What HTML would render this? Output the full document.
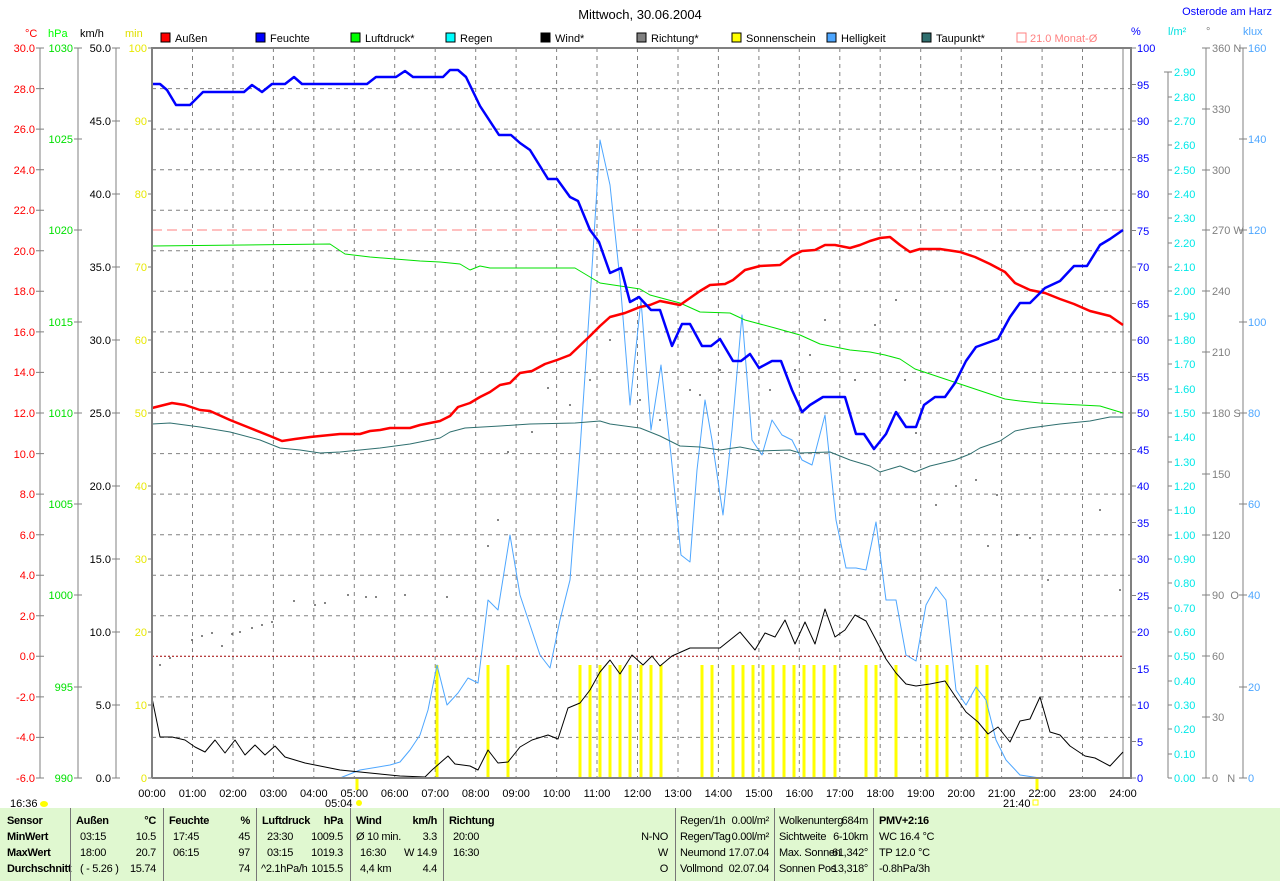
<!DOCTYPE html>
<html><head><meta charset="utf-8"><style>
body{margin:0;background:#fff;width:1280px;height:881px;overflow:hidden;font-family:"Liberation Sans",sans-serif}
svg text{font-family:"Liberation Sans",sans-serif;font-size:11px}
.tb{position:absolute;left:0;top:808px;width:1280px;height:73px;background:#e0f8d0;font-size:11px;letter-spacing:-0.3px}
.c{position:absolute;top:0;height:73px;border-left:1px solid #777}
.r{position:absolute;white-space:nowrap}
</style></head><body>
<svg width="1280" height="808" style="position:absolute;left:0;top:0">
<text x="640" y="19" text-anchor="middle" style="font-size:13px">Mittwoch, 30.06.2004</text>
<text x="1272" y="15" text-anchor="end" fill="#0000ff">Osterode am Harz</text>
<text x="25" y="37" fill="#ff0000">°C</text><text x="48" y="37" fill="#00ff00">hPa</text><text x="80" y="37">km/h</text><text x="125" y="37" fill="#e0e000">min</text>
<text x="1131" y="35" fill="#0000ff">%</text><text x="1168" y="35" fill="#00e0e0">l/m²</text><text x="1206" y="35" fill="#808080">°</text><text x="1243" y="35" fill="#4da6ff">klux</text>
<g stroke="#000" stroke-width="1">
<rect x="161" y="33" width="9" height="9" fill="#ff0000"/><rect x="256" y="33" width="9" height="9" fill="#0000ff"/><rect x="351" y="33" width="9" height="9" fill="#00ff00"/><rect x="446" y="33" width="9" height="9" fill="#00ffff"/><rect x="541" y="33" width="9" height="9" fill="#000"/><rect x="637" y="33" width="9" height="9" fill="#808080"/><rect x="732" y="33" width="9" height="9" fill="#ffff00"/><rect x="827" y="33" width="9" height="9" fill="#4da6ff"/><rect x="922" y="33" width="9" height="9" fill="#2f6f6f"/><rect x="1017" y="33" width="9" height="9" fill="none" stroke="#ff8080"/>
</g>
<text x="175" y="42">Außen</text><text x="270" y="42">Feuchte</text><text x="365" y="42">Luftdruck*</text><text x="460" y="42">Regen</text><text x="555" y="42">Wind*</text><text x="651" y="42">Richtung*</text><text x="746" y="42">Sonnenschein</text><text x="841" y="42">Helligkeit</text><text x="936" y="42">Taupunkt*</text><text x="1030" y="42" fill="#ff8080">21.0 Monat-Ø</text>
<g stroke="#808080" fill="none">
<path d="M40 48V778M78 48V778M116 48V778M1168 72V778M1206 48V778M1243 48V778"/>
<path d="M36 48h8M36 88.6h8M36 129.1h8M36 169.7h8M36 210.2h8M36 250.8h8M36 291.3h8M36 331.9h8M36 372.4h8M36 413h8M36 453.6h8M36 494.1h8M36 534.7h8M36 575.2h8M36 615.8h8M36 656.3h8M36 696.9h8M36 737.4h8M36 778h8"/>
<path d="M74 48h8M74 139h8M74 230h8M74 322h8M74 413h8M74 504h8M74 595h8M74 687h8M74 778h8"/>
<path d="M112 48h8M112 121h8M112 194h8M112 267h8M112 340h8M112 413h8M112 486h8M112 559h8M112 632h8M112 705h8M112 778h8"/>
<path d="M148 48h4M148 121h4M148 194h4M148 267h4M148 340h4M148 413h4M148 486h4M148 559h4M148 632h4M148 705h4M148 778h4"/>
<path d="M1131 48h5M1131 84.5h5M1131 121h5M1131 157.5h5M1131 194h5M1131 230.5h5M1131 267h5M1131 303.5h5M1131 340h5M1131 376.5h5M1131 413h5M1131 449.5h5M1131 486h5M1131 522.5h5M1131 559h5M1131 595.5h5M1131 632h5M1131 668.5h5M1131 705h5M1131 741.5h5M1131 778h5"/>
<path d="M1164 72h8M1168 97h4M1168 121h4M1168 145h4M1168 170h4M1168 194h4M1168 218h4M1168 243h4M1168 267h4M1168 291h4M1168 316h4M1168 340h4M1168 364h4M1168 389h4M1168 413h4M1168 437h4M1168 462h4M1168 486h4M1168 510h4M1168 535h4M1168 559h4M1168 583h4M1168 608h4M1168 632h4M1168 656h4M1168 681h4M1168 705h4M1168 729h4M1168 754h4M1168 778h4"/>
<path d="M1202 48h8M1202 109h8M1202 170h8M1202 230h8M1202 291h8M1202 352h8M1202 413h8M1202 474h8M1202 535h8M1202 595h8M1202 656h8M1202 717h8M1202 778h8"/>
<path d="M1239 48h8M1239 139h8M1239 230h8M1239 322h8M1239 413h8M1239 504h8M1239 595h8M1239 687h8M1239 778h8"/>
</g>
<g text-anchor="end" fill="#ff0000" style="font-size:12px">
<text x="35" y="52">30.0</text><text x="35" y="93">28.0</text><text x="35" y="133">26.0</text><text x="35" y="174">24.0</text><text x="35" y="214">22.0</text><text x="35" y="255">20.0</text><text x="35" y="295">18.0</text><text x="35" y="336">16.0</text><text x="35" y="376">14.0</text><text x="35" y="417">12.0</text><text x="35" y="458">10.0</text><text x="35" y="498">8.0</text><text x="35" y="539">6.0</text><text x="35" y="579">4.0</text><text x="35" y="620">2.0</text><text x="35" y="660">0.0</text><text x="35" y="701">-2.0</text><text x="35" y="741">-4.0</text><text x="35" y="782">-6.0</text>
</g>
<g text-anchor="end" fill="#00e000" style="font-size:12px">
<text x="73" y="52">1030</text><text x="73" y="143">1025</text><text x="73" y="234">1020</text><text x="73" y="326">1015</text><text x="73" y="417">1010</text><text x="73" y="508">1005</text><text x="73" y="599">1000</text><text x="73" y="691">995</text><text x="73" y="782">990</text>
</g>
<g text-anchor="end" style="font-size:12px">
<text x="111" y="52">50.0</text><text x="111" y="125">45.0</text><text x="111" y="198">40.0</text><text x="111" y="271">35.0</text><text x="111" y="344">30.0</text><text x="111" y="417">25.0</text><text x="111" y="490">20.0</text><text x="111" y="563">15.0</text><text x="111" y="636">10.0</text><text x="111" y="709">5.0</text><text x="111" y="782">0.0</text>
</g>
<g text-anchor="end" fill="#e8e800" style="font-size:12px">
<text x="147" y="52">100</text><text x="147" y="125">90</text><text x="147" y="198">80</text><text x="147" y="271">70</text><text x="147" y="344">60</text><text x="147" y="417">50</text><text x="147" y="490">40</text><text x="147" y="563">30</text><text x="147" y="636">20</text><text x="147" y="709">10</text><text x="147" y="782">0</text>
</g>
<g fill="#0000ff" style="font-size:12px">
<text x="1137" y="52">100</text><text x="1137" y="89">95</text><text x="1137" y="125">90</text><text x="1137" y="162">85</text><text x="1137" y="198">80</text><text x="1137" y="235">75</text><text x="1137" y="271">70</text><text x="1137" y="308">65</text><text x="1137" y="344">60</text><text x="1137" y="381">55</text><text x="1137" y="417">50</text><text x="1137" y="454">45</text><text x="1137" y="490">40</text><text x="1137" y="527">35</text><text x="1137" y="563">30</text><text x="1137" y="600">25</text><text x="1137" y="636">20</text><text x="1137" y="673">15</text><text x="1137" y="709">10</text><text x="1137" y="746">5</text><text x="1137" y="782">0</text>
</g>
<g fill="#00e8e8">
<text x="1174" y="76">2.90</text><text x="1174" y="101">2.80</text><text x="1174" y="125">2.70</text><text x="1174" y="149">2.60</text><text x="1174" y="174">2.50</text><text x="1174" y="198">2.40</text><text x="1174" y="222">2.30</text><text x="1174" y="247">2.20</text><text x="1174" y="271">2.10</text><text x="1174" y="295">2.00</text><text x="1174" y="320">1.90</text><text x="1174" y="344">1.80</text><text x="1174" y="368">1.70</text><text x="1174" y="393">1.60</text><text x="1174" y="417">1.50</text><text x="1174" y="441">1.40</text><text x="1174" y="466">1.30</text><text x="1174" y="490">1.20</text><text x="1174" y="514">1.10</text><text x="1174" y="539">1.00</text><text x="1174" y="563">0.90</text><text x="1174" y="587">0.80</text><text x="1174" y="612">0.70</text><text x="1174" y="636">0.60</text><text x="1174" y="660">0.50</text><text x="1174" y="685">0.40</text><text x="1174" y="709">0.30</text><text x="1174" y="733">0.20</text><text x="1174" y="758">0.10</text><text x="1174" y="782">0.00</text>
</g>
<g fill="#808080">
<text x="1212" y="52">360 N</text><text x="1212" y="113">330</text><text x="1212" y="174">300</text><text x="1212" y="234">270 W</text><text x="1212" y="295">240</text><text x="1212" y="356">210</text><text x="1212" y="417">180 S</text><text x="1212" y="478">150</text><text x="1212" y="539">120</text><text x="1212" y="599">90&#160;&#160;O</text><text x="1212" y="660">60</text><text x="1212" y="721">30</text><text x="1212" y="782">0&#160;&#160;&#160;N</text>
</g>
<g fill="#4da6ff" style="font-size:12px">
<text x="1248" y="52">160</text><text x="1248" y="143">140</text><text x="1248" y="234">120</text><text x="1248" y="326">100</text><text x="1248" y="417">80</text><text x="1248" y="508">60</text><text x="1248" y="599">40</text><text x="1248" y="691">20</text><text x="1248" y="782">0</text>
</g>
<g stroke="#808080" stroke-dasharray="4,4" fill="none">
<path d="M192.5 48V778M233 48V778M273.4 48V778M313.8 48V778M354.3 48V778M394.7 48V778M435.2 48V778M475.7 48V778M516.1 48V778M556.6 48V778M597 48V778M637.5 48V778M678 48V778M718.4 48V778M758.9 48V778M799.3 48V778M839.8 48V778M880.2 48V778M920.7 48V778M961.2 48V778M1001.6 48V778M1042.1 48V778M1082.5 48V778"/>
<path d="M152 88.6H1131M152 129.1H1131M152 169.7H1131M152 210.2H1131M152 250.8H1131M152 291.3H1131M152 331.9H1131M152 372.4H1131M152 413H1131M152 453.6H1131M152 494.1H1131M152 534.7H1131M152 575.2H1131M152 615.8H1131M152 696.9H1131M152 737.4H1131"/>
</g>
<path d="M1123 48V778" stroke="#808080"/>
<path d="M152 230H1123" stroke="#ff8080" stroke-dasharray="10,5"/>
<path d="M152 656.3H1123" stroke="#a00000" stroke-dasharray="2,2"/>
<g stroke="#ffff00" stroke-width="3">
<path d="M437 778V665M488 778V665M508 778V665M580 778V665M590 778V665M600 778V665M610 778V665M620 778V665M630 778V665M641 778V665M651 778V665M661 778V665M702 778V665M712 778V665M733 778V665M743 778V665M753 778V665M763 778V665M773 778V665M784 778V665M794 778V665M804 778V665M814 778V665M824 778V665M835 778V665M866 778V665M876 778V665M896 778V665M927 778V665M937 778V665M947 778V665M977 778V665M987 778V665M357 778V790M1037 778V790"/>
</g>
<g fill="#606060">
<circle cx="160" cy="665" r="1"/><circle cx="170" cy="658" r="1"/><circle cx="192" cy="640" r="1"/><circle cx="202" cy="636" r="1"/><circle cx="212" cy="633" r="1"/><circle cx="222" cy="646" r="1"/><circle cx="232" cy="634" r="1"/><circle cx="240" cy="632" r="1"/><circle cx="252" cy="628" r="1"/><circle cx="262" cy="625" r="1"/><circle cx="272" cy="622" r="1"/><circle cx="294" cy="601" r="1"/><circle cx="315" cy="605" r="1"/><circle cx="325" cy="603" r="1"/><circle cx="348" cy="595" r="1"/><circle cx="366" cy="597" r="1"/><circle cx="376" cy="597" r="1"/><circle cx="405" cy="595" r="1"/><circle cx="447" cy="597" r="1"/><circle cx="488" cy="546" r="1"/><circle cx="498" cy="520" r="1"/><circle cx="508" cy="452" r="1"/><circle cx="532" cy="432" r="1"/><circle cx="548" cy="388" r="1"/><circle cx="570" cy="405" r="1"/><circle cx="590" cy="380" r="1"/><circle cx="610" cy="340" r="1"/><circle cx="640" cy="400" r="1"/><circle cx="660" cy="420" r="1"/><circle cx="690" cy="390" r="1"/><circle cx="700" cy="395" r="1"/><circle cx="720" cy="370" r="1"/><circle cx="770" cy="390" r="1"/><circle cx="795" cy="370" r="1"/><circle cx="810" cy="355" r="1"/><circle cx="825" cy="320" r="1"/><circle cx="855" cy="380" r="1"/><circle cx="875" cy="325" r="1"/><circle cx="896" cy="300" r="1"/><circle cx="905" cy="380" r="1"/><circle cx="916" cy="433" r="1"/><circle cx="936" cy="505" r="1"/><circle cx="956" cy="486" r="1"/><circle cx="976" cy="480" r="1"/><circle cx="988" cy="546" r="1"/><circle cx="997" cy="495" r="1"/><circle cx="1017" cy="535" r="1"/><circle cx="1030" cy="538" r="1"/><circle cx="1048" cy="580" r="1"/><circle cx="1100" cy="510" r="1"/><circle cx="1120" cy="590" r="1"/>
</g>
<g fill="none" stroke-linejoin="round">
<polyline stroke="#4da6ff" stroke-width="1" points="152,778 340,778 360,770 390,765 400,762 410,750 420,735 428,710 437,665 447,705 458,693 468,678 478,683 488,600 498,610 510,535 520,595 530,625 540,655 550,668 560,620 570,580 580,450 590,300 600,140 610,185 620,280 630,405 641,300 651,430 661,365 671,455 681,555 690,562 697,470 705,400 712,440 723,515 732,430 742,315 752,440 762,455 772,420 782,435 792,440 802,460 812,465 825,415 836,520 846,568 856,568 866,570 876,522 886,600 896,600 906,655 916,661 926,605 936,587 946,600 956,690 966,705 976,687 986,700 996,740 1006,760 1020,775 1040,778"/>
<polyline stroke="#2f6f6f" stroke-width="1" points="152,424 170,423 200,427 230,432 260,440 280,448 300,450 320,453 340,452 380,448 410,444 440,438 450,432 465,428 500,426 530,424 575,423 600,421 610,424 640,428 660,436 680,446 700,447 720,450 740,447 760,451 790,450 800,453 830,452 850,460 870,466 880,472 900,466 915,472 930,466 955,460 970,454 980,448 1000,441 1015,431 1030,428 1060,424 1090,421 1110,417 1123,417"/>
<polyline stroke="#00e000" stroke-width="1" points="152,246 330,244 345,254 370,257 420,261 440,262 460,264 470,270 480,266 490,268 520,268 575,268 600,283 620,286 640,289 650,295 680,303 700,312 730,313 745,320 775,328 800,335 820,344 850,350 870,352 885,355 900,359 915,369 930,374 945,379 960,384 975,389 990,394 1005,399 1020,401 1040,403 1060,404 1080,405 1100,406 1123,413"/>
<polyline stroke="#000" stroke-width="1" points="152,698 160,737 172,737 185,740 195,747 205,752 215,740 225,753 235,740 245,755 255,745 265,755 275,746 285,757 305,763 320,766 340,770 360,772 380,774 400,776 425,777 432,770 448,756 455,764 470,766 478,770 488,750 498,763 508,762 520,747 532,740 548,735 558,739 568,708 580,703 590,690 600,672 610,660 620,674 632,655 643,665 652,656 660,666 672,656 690,648 720,648 730,640 740,632 755,650 765,633 775,637 785,620 795,644 805,622 815,644 825,609 835,637 845,630 855,615 866,621 876,640 886,659 896,673 906,684 916,686 930,684 945,681 955,696 966,712 978,722 988,734 998,727 1010,742 1020,721 1030,719 1040,697 1050,732 1060,735 1070,746 1085,756 1095,758 1110,766 1123,752"/>
<polyline stroke="#ff0000" stroke-width="2.5" points="152,408 160,406 172,403 185,405 200,410 210,411 230,420 250,428 270,436 282,441 295,439 310,437 320,436 340,434 360,434 370,431 380,430 390,428 410,428 420,425 440,421 450,416 458,407 470,403 480,397 490,392 500,385 510,383 520,373 532,371 545,364 557,360 570,355 590,336 600,326 610,317 625,313 640,307 650,305 660,301 680,305 690,298 700,291 710,285 725,284 733,280 745,270 760,266 780,265 792,256 802,251 815,250 825,245 835,245 850,248 860,245 870,241 880,238 890,237 900,245 910,252 920,249 940,249 960,252 975,257 990,264 1005,272 1015,283 1030,290 1045,293 1060,299 1074,304 1090,311 1110,316 1123,325"/>
<polyline stroke="#0000ff" stroke-width="2.5" points="152,84 160,84 167,90 176,105 190,105 203,92 244,92 252,85 262,92 272,84 285,84 294,77 302,84 367,84 376,77 396,77 405,71 413,77 443,77 450,70 458,70 466,77 480,106 499,135 511,135 520,143 530,150 548,179 557,179 570,197 578,201 590,230 599,242 610,273 621,268 630,302 639,297 651,310 660,310 672,346 682,324 690,324 702,346 711,346 720,339 733,361 741,361 750,354 759,368 772,361 781,361 792,390 802,412 810,405 823,397 845,397 856,434 864,434 874,449 886,434 896,412 906,427 916,427 924,405 935,397 945,397 955,383 966,361 976,347 998,339 1010,317 1020,303 1030,303 1045,288 1060,281 1074,266 1087,266 1100,245 1110,239 1123,230"/>
</g>
<path d="M152 778V48H1131V778H152" fill="none" stroke="#808080" stroke-width="2"/>
<g text-anchor="middle">
<text x="152" y="797">00:00</text><text x="192.5" y="797">01:00</text><text x="233" y="797">02:00</text><text x="273.4" y="797">03:00</text><text x="313.8" y="797">04:00</text><text x="354.3" y="797">05:00</text><text x="394.7" y="797">06:00</text><text x="435.2" y="797">07:00</text><text x="475.7" y="797">08:00</text><text x="516.1" y="797">09:00</text><text x="556.6" y="797">10:00</text><text x="597" y="797">11:00</text><text x="637.5" y="797">12:00</text><text x="678" y="797">13:00</text><text x="718.4" y="797">14:00</text><text x="758.9" y="797">15:00</text><text x="799.3" y="797">16:00</text><text x="839.8" y="797">17:00</text><text x="880.2" y="797">18:00</text><text x="920.7" y="797">19:00</text><text x="961.2" y="797">20:00</text><text x="1001.6" y="797">21:00</text><text x="1042.1" y="797">22:00</text><text x="1082.5" y="797">23:00</text><text x="1123" y="797">24:00</text>
</g>
<text x="10" y="807">16:36</text><ellipse cx="44" cy="804" rx="4" ry="3" fill="#ffff00"/>
<text x="325" y="807">05:04</text><circle cx="359" cy="803" r="3" fill="#ffff00"/>
<text x="1003" y="807">21:40</text><rect x="1033" y="800" width="5" height="5" fill="none" stroke="#ffff00"/>
</svg>
<div class="tb">
<div class="r" style="left:7px;top:7px;font-weight:bold">Sensor</div><div class="r" style="left:7px;top:23px;font-weight:bold">MinWert</div><div class="r" style="left:7px;top:39px;font-weight:bold">MaxWert</div><div class="r" style="left:7px;top:55px;font-weight:bold">Durchschnitt</div>
<div class="c" style="left:70px"></div>
<div class="r" style="left:76px;top:7px;font-weight:bold">Außen</div><div class="r" style="right:1124px;top:7px;font-weight:bold">°C</div>
<div class="r" style="left:80px;top:23px">03:15</div><div class="r" style="left:80px;top:39px">18:00</div><div class="r" style="left:80px;top:55px">( - 5.26 )</div>
<div class="r" style="right:1124px;top:23px">10.5</div><div class="r" style="right:1124px;top:39px">20.7</div><div class="r" style="right:1124px;top:55px">15.74</div>
<div class="c" style="left:163px"></div>
<div class="r" style="left:169px;top:7px;font-weight:bold">Feuchte</div><div class="r" style="right:1030px;top:7px;font-weight:bold">%</div>
<div class="r" style="left:173px;top:23px">17:45</div><div class="r" style="left:173px;top:39px">06:15</div>
<div class="r" style="right:1030px;top:23px">45</div><div class="r" style="right:1030px;top:39px">97</div><div class="r" style="right:1030px;top:55px">74</div>
<div class="c" style="left:256px"></div>
<div class="r" style="left:262px;top:7px;font-weight:bold">Luftdruck</div><div class="r" style="right:937px;top:7px;font-weight:bold">hPa</div>
<div class="r" style="left:267px;top:23px">23:30</div><div class="r" style="left:267px;top:39px">03:15</div><div class="r" style="left:261px;top:55px">^2.1hPa/h</div>
<div class="r" style="right:937px;top:23px">1009.5</div><div class="r" style="right:937px;top:39px">1019.3</div><div class="r" style="right:937px;top:55px">1015.5</div>
<div class="c" style="left:350px"></div>
<div class="r" style="left:356px;top:7px;font-weight:bold">Wind</div><div class="r" style="right:843px;top:7px;font-weight:bold">km/h</div>
<div class="r" style="left:356px;top:23px">Ø 10 min.</div><div class="r" style="left:360px;top:39px">16:30</div><div class="r" style="left:360px;top:55px">4,4 km</div>
<div class="r" style="right:843px;top:23px">3.3</div><div class="r" style="right:843px;top:39px">W 14.9</div><div class="r" style="right:843px;top:55px">4.4</div>
<div class="c" style="left:443px"></div>
<div class="r" style="left:449px;top:7px;font-weight:bold">Richtung</div>
<div class="r" style="left:453px;top:23px">20:00</div><div class="r" style="left:453px;top:39px">16:30</div>
<div class="r" style="right:612px;top:23px">N-NO</div><div class="r" style="right:612px;top:39px">W</div><div class="r" style="right:612px;top:55px">O</div>
<div class="c" style="left:675px"></div>
<div class="r" style="left:680px;top:7px">Regen/1h</div><div class="r" style="left:680px;top:23px">Regen/Tag</div><div class="r" style="left:680px;top:39px">Neumond</div><div class="r" style="left:680px;top:55px">Vollmond</div>
<div class="r" style="right:511px;top:7px">0.00l/m²</div><div class="r" style="right:511px;top:23px">0.00l/m²</div><div class="r" style="right:511px;top:39px">17.07.04</div><div class="r" style="right:511px;top:55px">02.07.04</div>
<div class="c" style="left:774px"></div>
<div class="r" style="left:779px;top:7px">Wolkenunterg</div><div class="r" style="left:779px;top:23px">Sichtweite</div><div class="r" style="left:779px;top:39px">Max. Sonnen</div><div class="r" style="left:779px;top:55px">Sonnen Pos</div>
<div class="r" style="right:412px;top:7px">684m</div><div class="r" style="right:412px;top:23px">6-10km</div><div class="r" style="right:412px;top:39px">61,342°</div><div class="r" style="right:412px;top:55px">-13,318°</div>
<div class="c" style="left:873px"></div>
<div class="r" style="left:879px;top:7px;font-weight:bold">PMV+2:16</div><div class="r" style="left:879px;top:23px">WC 16.4 °C</div><div class="r" style="left:879px;top:39px">TP 12.0 °C</div><div class="r" style="left:879px;top:55px">-0.8hPa/3h</div>
</div>
</body></html>
